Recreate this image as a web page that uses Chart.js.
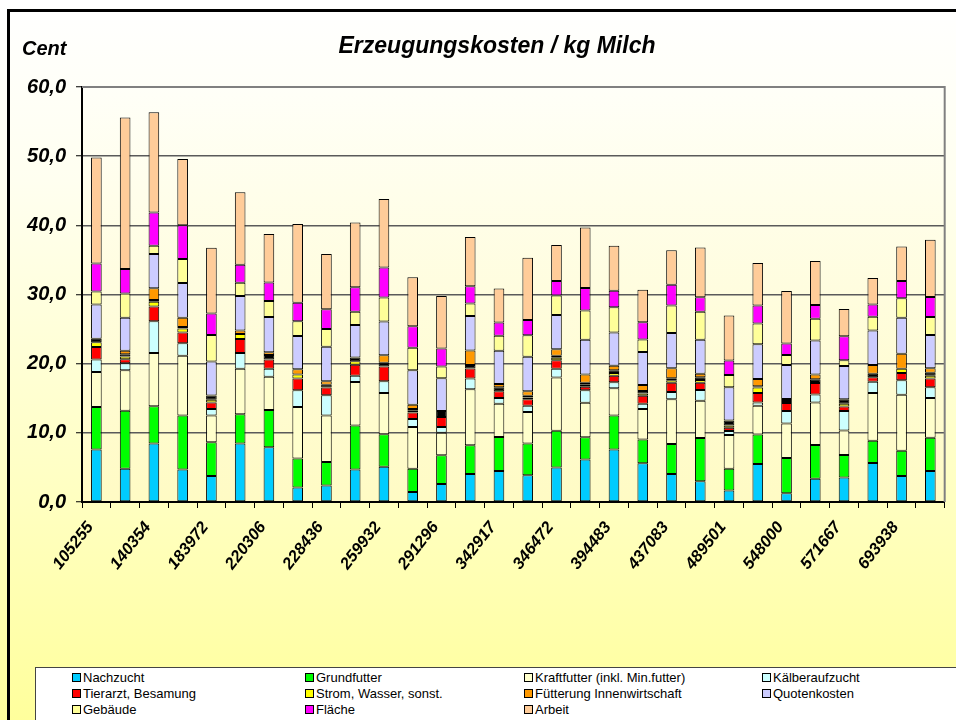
<!DOCTYPE html>
<html>
<head>
<meta charset="utf-8">
<script src="https://cdn.jsdelivr.net/npm/chart.js@4"></script>
<style>
  html, body { margin: 0; padding: 0; }
  body {
    width: 956px; height: 720px; overflow: hidden; position: relative;
    background: linear-gradient(#ffffff 0%, #fffff0 25%, #ffffc0 70%, #ffff9c 100%);
    font-family: "Liberation Sans", Arial, sans-serif;
  }
  #frame {
    position: absolute; left: 7px; top: 9px; width: 960px; height: 720px;
    border-top: 3px solid #000; border-left: 3px solid #000;
  }
  #wrap { position: absolute; left: 0; top: 0; width: 956px; height: 720px; }
  .title {
    position: absolute; top: 32px; left: 0; width: 994px; text-align: center;
    font: italic bold 23px "Liberation Sans", Arial, sans-serif;
  }
  .unit {
    position: absolute; left: 22px; top: 37px;
    font: italic bold 20px "Liberation Sans", Arial, sans-serif;
  }
  #legend {
    position: absolute; left: 35px; top: 667px; width: 940px; height: 70px;
    background: #fff; border: 1px solid #444;
  }
  .item {
    position: absolute; font-size: 13px; line-height: 14px; white-space: nowrap;
  }
  .item span.box {
    display: inline-block; width: 7px; height: 7px; border: 1px solid #000;
    margin-right: 2px; vertical-align: 0px;
  }
</style>
</head>
<body>
<div id="frame"></div>
<div id="wrap"><canvas id="costChart" width="956" height="720"></canvas></div>
<div class="unit">Cent</div>
<div class="title">Erzeugungskosten / kg Milch</div>
<div id="legend"></div>
<script>
// 30 Betriebe, nur jeder zweite beschriftet
const categories = [
  '105255', '', '140354', '', '183972', '', '220306', '', '228436', '',
  '259932', '', '291296', '', '342917', '', '346472', '', '394483', '',
  '437083', '', '489501', '', '548000', '', '571667', '', '693938', ''
];
const yTicks = [0, 10, 20, 30, 40, 50, 60];

const nachzucht   = [7.6, 4.8, 8.45, 4.7, 3.75, 8.45, 7.9, 2.1, 2.4, 4.7, 5.1, 1.45, 2.6, 4.05, 4.5, 3.85, 5.0, 6.15, 7.6, 5.6, 4.05, 3.0, 1.65, 5.5, 1.25, 3.35, 3.55, 5.65, 3.75, 4.5];
const grundfutter = [6.15, 8.4, 5.4, 7.8, 4.9, 4.25, 5.4, 4.2, 3.4, 6.35, 4.7, 3.35, 4.15, 4.15, 4.9, 4.6, 5.3, 3.2, 4.9, 3.45, 4.35, 6.25, 3.15, 4.25, 5.1, 4.9, 3.25, 3.2, 3.65, 4.8];
const kraftfutter = [5.05, 5.85, 7.7, 8.65, 3.85, 6.55, 4.8, 7.45, 6.7, 6.3, 5.95, 6.05, 3.25, 8.1, 4.8, 4.55, 7.7, 5.0, 3.95, 4.4, 6.45, 5.4, 4.9, 4.15, 5.0, 6.15, 3.55, 6.9, 8.1, 5.75];
const kaelber     = [1.8, 1.0, 4.6, 1.8, 0.95, 2.3, 1.15, 2.4, 2.95, 0.9, 1.7, 1.15, 0.85, 1.55, 0.85, 0.9, 1.25, 1.8, 0.85, 0.75, 1.05, 1.55, 0.55, 0.5, 1.8, 1.15, 2.8, 1.65, 2.1, 1.55];
const tierarzt    = [1.8, 0.6, 2.1, 1.55, 0.95, 2.0, 1.35, 1.7, 1.1, 1.6, 2.15, 0.95, 1.45, 1.45, 0.95, 0.95, 1.25, 0.5, 0.95, 1.15, 1.35, 1.05, 0.5, 1.35, 1.15, 1.65, 0.65, 0.65, 1.05, 1.25];
const strom       = [0.7, 0.4, 0.7, 0.6, 0.4, 0.75, 0, 0.6, 0, 0.5, 0, 0.25, 0, 0, 0, 0.25, 0.35, 0.3, 0.4, 0.35, 0.35, 0.4, 0.3, 0.8, 0.3, 0, 0.4, 0, 0.6, 0.4];
const sonstige    = [0.5, 0.3, 0.25, 0.2, 0.6, 0, 0.65, 0, 0.4, 0.55, 0.55, 0.25, 0.85, 0.5, 0.6, 0.25, 0.3, 0.3, 0.4, 0.35, 0.3, 0.4, 0.75, 0.2, 0.3, 0.55, 0.65, 0.5, 0, 0.45];
const fuetterung  = [0, 0.5, 1.7, 1.35, 0, 0.5, 0.4, 0.75, 0.5, 0, 1.05, 0.6, 0, 2.1, 0.45, 0.65, 0.95, 1.2, 0.65, 0.85, 1.45, 0.5, 0, 1.05, 0, 0.7, 0, 1.25, 2.2, 0.65];
const quoten      = [4.95, 4.8, 4.95, 5.0, 4.9, 5.0, 5.1, 4.8, 5.0, 4.7, 4.9, 5.0, 4.75, 5.0, 4.8, 5.0, 4.95, 5.0, 4.8, 4.8, 5.1, 4.9, 4.8, 5.0, 4.9, 4.9, 4.8, 5.0, 5.2, 4.8];
const gebaeude    = [1.9, 3.5, 1.2, 3.5, 3.85, 1.9, 2.3, 2.15, 2.55, 1.9, 3.45, 3.25, 1.7, 1.8, 2.2, 3.1, 2.8, 4.25, 3.65, 1.8, 3.95, 4.05, 1.75, 3.0, 1.45, 3.15, 0.85, 2.0, 2.8, 2.6];
const flaeche     = [4.05, 3.55, 4.8, 4.85, 3.1, 2.6, 2.7, 2.65, 2.85, 3.55, 4.35, 3.1, 2.6, 2.5, 1.9, 2.2, 2.1, 3.25, 2.4, 2.5, 3.0, 2.1, 2.1, 2.6, 1.65, 2.0, 3.45, 1.75, 2.5, 2.9];
const arbeit      = [15.3, 21.9, 14.5, 9.6, 9.5, 10.5, 7.0, 11.4, 8.0, 9.35, 9.9, 7.1, 7.6, 7.1, 4.9, 9.0, 5.2, 8.75, 6.5, 4.7, 5.0, 7.2, 6.5, 6.15, 7.6, 6.35, 3.95, 3.85, 5.0, 8.25];

// Reihenfolge von unten nach oben
const series = [
  { label: 'Nachzucht', data: nachzucht, color: '#00ccff' },
  { label: 'Grundfutter', data: grundfutter, color: '#00ff00' },
  { label: 'Kraftfutter (inkl. Min.futter)', data: kraftfutter, color: '#ffffcc' },
  { label: 'Kälberaufzucht', data: kaelber, color: '#ccffff' },
  { label: 'Tierarzt, Besamung', data: tierarzt, color: '#ff0000' },
  { label: 'Strom, Wasser, sonst.', data: strom, color: '#ffff00' },
  { label: 'Sonstiges', data: sonstige, color: '#000000', noLegend: true },
  { label: 'Fütterung Innenwirtschaft', data: fuetterung, color: '#ff9900' },
  { label: 'Quotenkosten', data: quoten, color: '#ccccff' },
  { label: 'Gebäude', data: gebaeude, color: '#ffff99' },
  { label: 'Fläche', data: flaeche, color: '#ff00ff' },
  { label: 'Arbeit', data: arbeit, color: '#ffcc99' }
];
const legendCols = [72, 305, 524, 762];

const plotBackground = {
  id: 'plotBackground',
  beforeDraw(chart) {
    const { ctx, chartArea: a } = chart;
    const g = ctx.createLinearGradient(0, a.top, 0, a.bottom);
    g.addColorStop(0, '#fffff8');
    g.addColorStop(1, '#fffbc4');
    ctx.save();
    ctx.fillStyle = g;
    ctx.fillRect(a.left, a.top, a.right - a.left, a.bottom - a.top);
    ctx.restore();
  },
  afterDraw(chart) {
    const { ctx, chartArea: a } = chart;
    ctx.save();
    ctx.strokeStyle = '#808080';
    ctx.lineWidth = 2;
    ctx.beginPath();
    ctx.moveTo(a.left, a.top);
    ctx.lineTo(a.right, a.top);
    ctx.lineTo(a.right, a.bottom);
    ctx.stroke();
    ctx.restore();
  }
};

Chart.defaults.font.family = '"Liberation Sans", Arial, sans-serif';
Chart.defaults.color = '#000';

const ctx = document.getElementById('costChart').getContext('2d');
new Chart(ctx, {
  type: 'bar',
  data: {
    labels: categories,
    datasets: series.map(s => ({
      label: s.label,
      data: s.data,
      backgroundColor: s.color,
      borderColor: '#000',
      borderWidth: 1,
      borderSkipped: false,
      barPercentage: 0.37,
      categoryPercentage: 1
    }))
  },
  options: {
    responsive: false,
    animation: false,
    devicePixelRatio: 1,
    layout: { padding: { left: 0, right: 5, top: 87, bottom: 118 } },
    plugins: {
      legend: { display: false },
      title: { display: false },
      tooltip: { enabled: false }
    },
    scales: {
      x: {
        stacked: true,
        afterFit: scale => { scale.height = 100; },
        grid: {
          offset: true, drawOnChartArea: false, drawTicks: true,
          tickLength: 6, tickColor: '#000', tickWidth: 1
        },
        border: { color: '#000', width: 2 },
        ticks: {
          autoSkip: false, minRotation: 52, maxRotation: 52, padding: 10,
          labelOffset: -6,
          font: { size: 16.5, weight: 'bold', style: 'italic' },
          callback: (v, i) => categories[i]
        }
      },
      y: {
        stacked: true,
        min: 0,
        max: 60,
        afterFit: scale => { scale.width = 82; },
        afterBuildTicks: scale => { scale.ticks = yTicks.map(v => ({ value: v })); },
        grid: {
          color: '#5a5a5a', lineWidth: 1.5,
          tickLength: 6, tickColor: '#000', tickWidth: 1
        },
        border: { color: '#000', width: 2 },
        ticks: {
          padding: 10,
          font: { size: 20, weight: 'bold', style: 'italic' },
          callback: v => v.toFixed(1).replace('.', ',')
        }
      }
    }
  },
  plugins: [plotBackground]
});

// Legende: 4 Spalten, 3 Zeilen
const legend = document.getElementById('legend');
series.filter(s => !s.noLegend).forEach((s, i) => {
  const el = document.createElement('div');
  el.className = 'item';
  el.style.left = (legendCols[i % 4] - 36) + 'px';
  el.style.top = (3 + 16 * Math.floor(i / 4)) + 'px';
  el.innerHTML = '<span class="box" style="background:' + s.color + '"></span>' + s.label;
  legend.appendChild(el);
});
</script>
</body>
</html>
